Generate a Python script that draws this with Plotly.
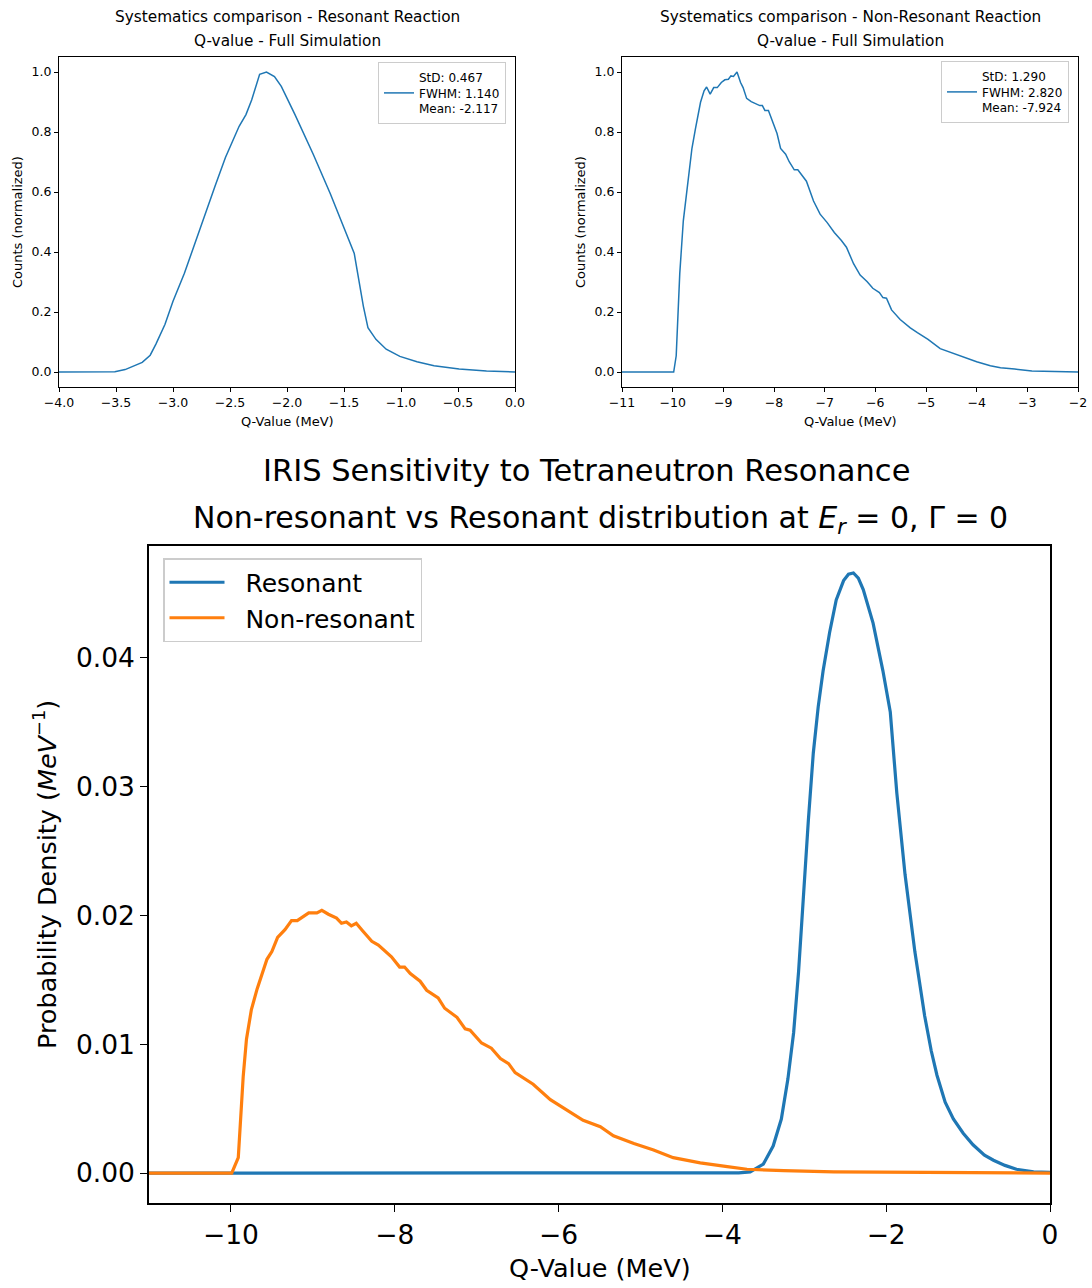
import plotly.graph_objects as go

# ---------------- data ----------------
# Top-left: resonant reaction, normalized counts
res_norm_q = [-4.0, -3.51, -3.42, -3.33, -3.27, -3.20, -3.15, -3.07, -3.00, -2.90, -2.81, -2.72,
              -2.63, -2.54, -2.49, -2.42, -2.36, -2.31, -2.24, -2.18, -2.11, -2.05, -1.93, -1.77,
              -1.62, -1.50, -1.41, -1.38, -1.33, -1.29, -1.22, -1.13, -1.01, -0.86, -0.71, -0.49,
              -0.25, 0.0]
res_norm_v = [0.0, 0.001, 0.008, 0.021, 0.032, 0.056, 0.093, 0.159, 0.236, 0.329, 0.428, 0.528,
              0.621, 0.715, 0.759, 0.819, 0.858, 0.907, 0.992, 1.0, 0.985, 0.952, 0.858, 0.726,
              0.594, 0.483, 0.395, 0.329, 0.219, 0.148, 0.109, 0.076, 0.052, 0.034, 0.021, 0.010,
              0.003, 0.0]

# Top-right: non-resonant reaction, normalized counts
non_norm_q = [-11.0, -9.98, -9.93, -9.86, -9.79, -9.72, -9.62, -9.55, -9.45, -9.38, -9.33, -9.26,
              -9.19, -9.12, -9.04, -8.97, -8.90, -8.85, -8.80, -8.73, -8.66, -8.61, -8.54, -8.45,
              -8.28, -8.23, -8.18, -8.11, -7.94, -7.87, -7.77, -7.70, -7.60, -7.53, -7.36, -7.22,
              -7.09, -6.95, -6.81, -6.67, -6.57, -6.43, -6.30, -6.16, -6.05, -5.92, -5.85, -5.78,
              -5.68, -5.51, -5.31, -5.17, -4.96, -4.72, -4.55, -4.28, -4.00, -3.73, -3.53, -3.25,
              -2.91, -2.0]
non_norm_v = [0.0, 0.0, 0.054, 0.328, 0.504, 0.603, 0.745, 0.811, 0.899, 0.937, 0.950, 0.926,
              0.948, 0.948, 0.965, 0.974, 0.976, 0.987, 0.985, 1.0, 0.965, 0.948, 0.912, 0.901,
              0.888, 0.888, 0.872, 0.872, 0.795, 0.745, 0.726, 0.701, 0.674, 0.674, 0.636, 0.570,
              0.526, 0.498, 0.465, 0.438, 0.416, 0.361, 0.323, 0.301, 0.279, 0.265, 0.248, 0.246,
              0.207, 0.175, 0.147, 0.131, 0.109, 0.078, 0.067, 0.052, 0.034, 0.021, 0.014, 0.010,
              0.003, 0.0]

# Bottom: probability densities
res_pd_q = [-11.0, -4.0, -3.80, -3.66, -3.50, -3.38, -3.28, -3.20, -3.13, -3.07, -3.01, -2.95,
            -2.89, -2.83, -2.77, -2.69, -2.61, -2.52, -2.46, -2.40, -2.34, -2.28, -2.16, -2.04,
            -1.95, -1.87, -1.77, -1.65, -1.53, -1.45, -1.38, -1.28, -1.18, -1.06, -0.94, -0.80,
            -0.69, -0.55, -0.41, -0.20, 0.0]
res_pd_v = [0.0, 0.0, 0.00002, 0.0001, 0.0007, 0.0021, 0.0042, 0.0073, 0.0109, 0.0156, 0.0218,
            0.0274, 0.0326, 0.0362, 0.0390, 0.0420, 0.0445, 0.0460, 0.0465, 0.0466, 0.0462, 0.0453,
            0.0427, 0.0390, 0.0358, 0.0295, 0.0232, 0.0172, 0.0122, 0.0095, 0.0076, 0.0055, 0.0042,
            0.0031, 0.0022, 0.0014, 0.0010, 0.0006, 0.0003, 0.0001, 0.00005]

non_pd_q = [-11.0, -9.99, -9.91, -9.87, -9.85, -9.81, -9.75, -9.68, -9.62, -9.56, -9.50, -9.43,
            -9.34, -9.26, -9.19, -9.05, -8.95, -8.89, -8.81, -8.71, -8.65, -8.59, -8.53, -8.47,
            -8.39, -8.28, -8.20, -8.04, -7.94, -7.88, -7.81, -7.69, -7.61, -7.47, -7.39, -7.24,
            -7.14, -7.08, -6.94, -6.82, -6.71, -6.61, -6.53, -6.31, -6.10, -5.90, -5.70, -5.49,
            -5.33, -5.08, -4.84, -4.60, -4.27, -3.94, -3.70, -3.25, -2.64, 0.0]
non_pd_v = [0.0, 0.0, 0.0012, 0.0052, 0.0075, 0.0104, 0.0127, 0.0143, 0.0154, 0.0166, 0.0172,
            0.0183, 0.0189, 0.0196, 0.0196, 0.0202, 0.0202, 0.0204, 0.0201, 0.0198, 0.0194, 0.0195,
            0.0192, 0.0194, 0.0188, 0.0180, 0.0177, 0.0168, 0.0160, 0.0160, 0.0155, 0.0149, 0.0142,
            0.0136, 0.0128, 0.0121, 0.0112, 0.0111, 0.0101, 0.0097, 0.0089, 0.0085, 0.0078, 0.0069,
            0.0057, 0.0049, 0.0041, 0.0036, 0.0029, 0.0023, 0.0018, 0.0012, 0.0008, 0.0005, 0.0003,
            0.0002, 0.0001, 0.0]

res_stats = "StD: 0.467<br>FWHM: 1.140<br>Mean: -2.117"
non_stats = "StD: 1.290<br>FWHM: 2.820<br>Mean: -7.924"
bottom_names = ["Resonant", "Non-resonant"]

BLUE = "#1f77b4"
ORANGE = "#ff7f0e"
W, H = 1092, 1288
FONT = "DejaVu Sans"
PAD = "\u00a0\u00a0"


def px(x):
    return x / W


def py(y):
    return 1 - y / H


fig = go.Figure()
fig.add_trace(go.Scatter(x=res_norm_q, y=res_norm_v, mode="lines", name=res_stats,
                         line=dict(color=BLUE, width=1.5), xaxis="x", yaxis="y", legend="legend"))
fig.add_trace(go.Scatter(x=non_norm_q, y=non_norm_v, mode="lines", name=non_stats,
                         line=dict(color=BLUE, width=1.5), xaxis="x2", yaxis="y2", legend="legend2"))
fig.add_trace(go.Scatter(x=res_pd_q, y=res_pd_v, mode="lines", name=PAD + bottom_names[0],
                         line=dict(color=BLUE, width=3.2), xaxis="x3", yaxis="y3", legend="legend3"))
fig.add_trace(go.Scatter(x=non_pd_q, y=non_pd_v, mode="lines", name=PAD + bottom_names[1],
                         line=dict(color=ORANGE, width=3.2), xaxis="x3", yaxis="y3", legend="legend3"))

small_ax = dict(showline=True, linecolor="black", linewidth=1, mirror=True, ticks="outside",
                ticklen=4, tickcolor="black", showgrid=False, zeroline=False, automargin=False,
                tickfont=dict(family=FONT, size=12.5, color="black"))
big_ax = dict(showline=True, linecolor="black", linewidth=1.5, mirror=True, ticks="outside",
              ticklen=7, tickwidth=1.2, tickcolor="black", showgrid=False, zeroline=False,
              automargin=False, tickfont=dict(family=FONT, size=26.5, color="black"))

fig.update_layout(
    width=W, height=H, margin=dict(l=0, r=0, t=0, b=0, autoexpand=False),
    paper_bgcolor="white", plot_bgcolor="white",
    font=dict(family=FONT, color="black"),
    xaxis=dict(domain=[px(59), px(515)], range=[-4, 0], dtick=0.5, tick0=0, tickformat=".1f",
               anchor="y", **small_ax),
    yaxis=dict(domain=[py(387), py(57)], range=[-0.05, 1.05], dtick=0.2, tick0=0, tickformat=".1f",
               anchor="x", **small_ax),
    xaxis2=dict(domain=[px(622), px(1078)], range=[-11, -2], dtick=1, tick0=0,
                anchor="y2", **small_ax),
    yaxis2=dict(domain=[py(387), py(57)], range=[-0.05, 1.05], dtick=0.2, tick0=0, tickformat=".1f",
                anchor="x2", **small_ax),
    xaxis3=dict(domain=[px(149), px(1050)], range=[-11, 0], dtick=2, tick0=0,
                anchor="y3", **big_ax),
    yaxis3=dict(domain=[py(1203), py(546)], range=[-0.00232, 0.04869], dtick=0.01, tick0=0,
                tickformat=".2f", anchor="x3", **big_ax),
    showlegend=True,
    legend=dict(x=px(378), y=py(62), xanchor="left", yanchor="top", bgcolor="rgba(255,255,255,0.8)",
                bordercolor="#cccccc", borderwidth=1, font=dict(family=FONT, size=12),
                valign="middle", itemwidth=30, tracegroupgap=0),
    legend2=dict(x=px(941), y=py(61), xanchor="left", yanchor="top", bgcolor="rgba(255,255,255,0.8)",
                 bordercolor="#cccccc", borderwidth=1, font=dict(family=FONT, size=12),
                 valign="middle", itemwidth=30, tracegroupgap=0),
    legend3=dict(x=px(163), y=py(558), xanchor="left", yanchor="top", bgcolor="rgba(255,255,255,0.8)",
                 bordercolor="#cccccc", borderwidth=1.5, font=dict(family=FONT, size=25),
                 itemwidth=55, tracegroupgap=0),
)

annots = [
    (287, 17, "Systematics comparison - Resonant Reaction", 15.3, 0),
    (287, 41, "Q-value - Full Simulation", 15.3, 0),
    (850, 17, "Systematics comparison - Non-Resonant Reaction", 15.3, 0),
    (850, 41, "Q-value - Full Simulation", 15.3, 0),
    (287, 421, "Q-Value (MeV)", 13, 0),
    (850, 421, "Q-Value (MeV)", 13, 0),
    (17, 222, "Counts (normalized)", 13, -90),
    (580, 222, "Counts (normalized)", 13, -90),
    (586, 471, "IRIS Sensitivity to Tetraneutron Resonance", 30.5, 0),
    (600, 519, "Non-resonant vs Resonant distribution at <i>E</i><sub><i>r</i></sub> = 0, Γ = 0", 30, 0),
    (600, 1268, "Q-Value (MeV)", 25.5, 0),
    (45, 875, "Probability Density (<i>MeV</i><sup>−1</sup>)", 25.5, -90),
]
for x, y, t, s, ang in annots:
    fig.add_annotation(x=px(x), y=py(y), xref="paper", yref="paper", text=t, showarrow=False,
                       xanchor="center", yanchor="middle", textangle=ang,
                       font=dict(family=FONT, size=s, color="black"))

fig.write_html("out.html")
